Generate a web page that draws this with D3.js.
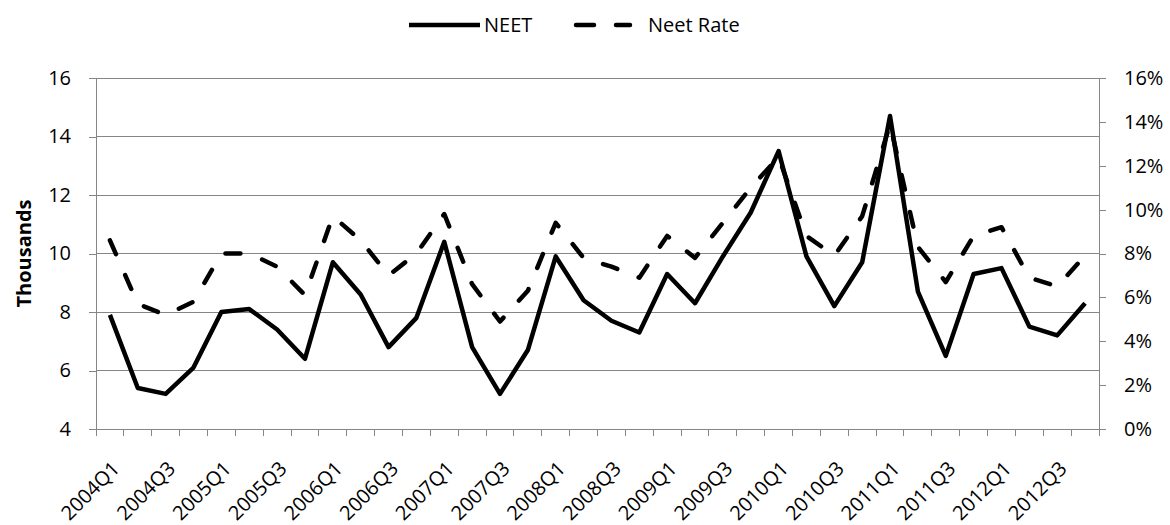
<!DOCTYPE html>
<html>
<head>
  <title>NEET</title>
  <script src="https://d3js.org/d3.v7.min.js"></script>
  <style>
    body { margin: 0; background: #fff; font-family: "Open Sans", "Noto Sans", sans-serif; }
    .axis path, .axis line { stroke: #868686; fill: none; shape-rendering: crispEdges; }
    .axis text { font-size: 20px; fill: #000; font-family: "Open Sans", "Noto Sans", sans-serif; }
    .grid line { stroke: #868686; shape-rendering: crispEdges; }
  </style>
</head>
<body>
  <div id="chart"></div>
  <script>
    const quarters = [];
    for (let y = 2004; y <= 2012; y++) for (let q = 1; q <= 4; q++) quarters.push(`${y}Q${q}`);

    const neet = [7.9, 5.4, 5.2, 6.1, 8.0, 8.1, 7.4, 6.4, 9.7, 8.6, 6.8, 7.8,
                  10.4, 6.8, 5.2, 6.7, 9.9, 8.4, 7.7, 7.3, 9.3, 8.3, 9.9, 11.4,
                  13.5, 9.9, 8.2, 9.7, 14.7, 8.7, 6.5, 9.3, 9.5, 7.5, 7.2, 8.3];
    const neetRate = [8.6, 5.7, 5.2, 5.8, 8.0, 8.0, 7.4, 6.1, 9.7, 8.6, 7.0, 8.0,
                      9.8, 6.6, 4.9, 6.3, 9.4, 7.8, 7.4, 6.9, 8.8, 7.8, 9.4, 11.0,
                      12.4, 8.8, 7.9, 9.7, 13.9, 8.3, 6.7, 8.8, 9.2, 6.9, 6.5, 7.9];
    const leftTicks = [4, 6, 8, 10, 12, 14, 16];
    const rightTicks = [0, 2, 4, 6, 8, 10, 12, 14, 16];

    const W = 1170, H = 525;
    const margin = {top: 78, right: 71, bottom: 96, left: 96};
    const width = W - margin.left - margin.right;
    const height = H - margin.top - margin.bottom;

    const svg = d3.select("#chart").append("svg")
      .attr("width", W).attr("height", H);
    const g = svg.append("g").attr("transform", `translate(${margin.left},${margin.top})`);

    const x = d3.scaleBand().domain(quarters).range([0, width]);
    const y = d3.scaleLinear().domain([4, 16]).range([height, 0]);
    const y2 = d3.scaleLinear().domain([0, 16]).range([height, 0]);

    // gridlines
    g.append("g").attr("class", "grid")
      .selectAll("line").data(leftTicks.slice(1)).join("line")
        .attr("x1", 0).attr("x2", width)
        .attr("y1", d => y(d)).attr("y2", d => y(d));

    // left axis
    g.append("g").attr("class", "axis")
      .call(d3.axisLeft(y).tickValues(leftTicks).tickSize(7).tickPadding(18).tickSizeOuter(0));

    // right axis
    g.append("g").attr("class", "axis")
      .attr("transform", `translate(${width},0)`)
      .call(d3.axisRight(y2).tickValues(rightTicks).tickFormat(d => d + "%").tickSize(7).tickPadding(18).tickSizeOuter(0));

    // x axis: ticks at category boundaries
    const xa = g.append("g").attr("class", "axis")
      .attr("transform", `translate(0,${height})`);
    xa.append("line").attr("x1", 0).attr("x2", width);
    xa.selectAll(".tk").data(d3.range(quarters.length + 1)).join("line")
      .attr("class", "tk")
      .attr("x1", i => i * x.step()).attr("x2", i => i * x.step())
      .attr("y1", 0).attr("y2", 7);
    xa.selectAll("text").data(quarters.filter((d, i) => i % 2 === 0)).join("text")
      .attr("text-anchor", "end")
      .attr("transform", d => `translate(${x(d) + x.bandwidth() / 2 + 11},${41}) rotate(-45)`)
      .text(d => d);

    // y title
    svg.append("text")
      .attr("transform", `translate(31,${margin.top + height / 2}) rotate(-90)`)
      .attr("text-anchor", "middle")
      .attr("font-size", 20).attr("font-weight", "bold")
      .text("Thousands");

    const cx = d => x(d) + x.bandwidth() / 2;

    g.append("path")
      .datum(neetRate)
      .attr("fill", "none").attr("stroke", "#000").attr("stroke-width", 4.5)
      .attr("stroke-dasharray", "15,23").attr("stroke-linecap", "round").attr("stroke-linejoin", "round")
      .attr("d", d3.line().x((d, i) => cx(quarters[i])).y(d => y2(d)));

    g.append("path")
      .datum(neet)
      .attr("fill", "none").attr("stroke", "#000").attr("stroke-width", 4.5)
      .attr("stroke-linejoin", "round")
      .attr("d", d3.line().x((d, i) => cx(quarters[i])).y(d => y(d)));

    // legend
    const lg = svg.append("g").attr("transform", "translate(0,25)");
    lg.append("line").attr("x1", 409).attr("x2", 480).attr("y1", 0).attr("y2", 0)
      .attr("stroke", "#000").attr("stroke-width", 4.5);
    lg.append("text").attr("x", 484).attr("y", 7).attr("font-size", 20).text("NEET");
    lg.append("line").attr("x1", 576).attr("x2", 630).attr("y1", 0).attr("y2", 0)
      .attr("stroke", "#000").attr("stroke-width", 4.5)
      .attr("stroke-dasharray", "18,22").attr("stroke-linecap", "round");
    lg.append("text").attr("x", 648).attr("y", 7).attr("font-size", 20).text("Neet Rate");
  </script>
</body>
</html>
